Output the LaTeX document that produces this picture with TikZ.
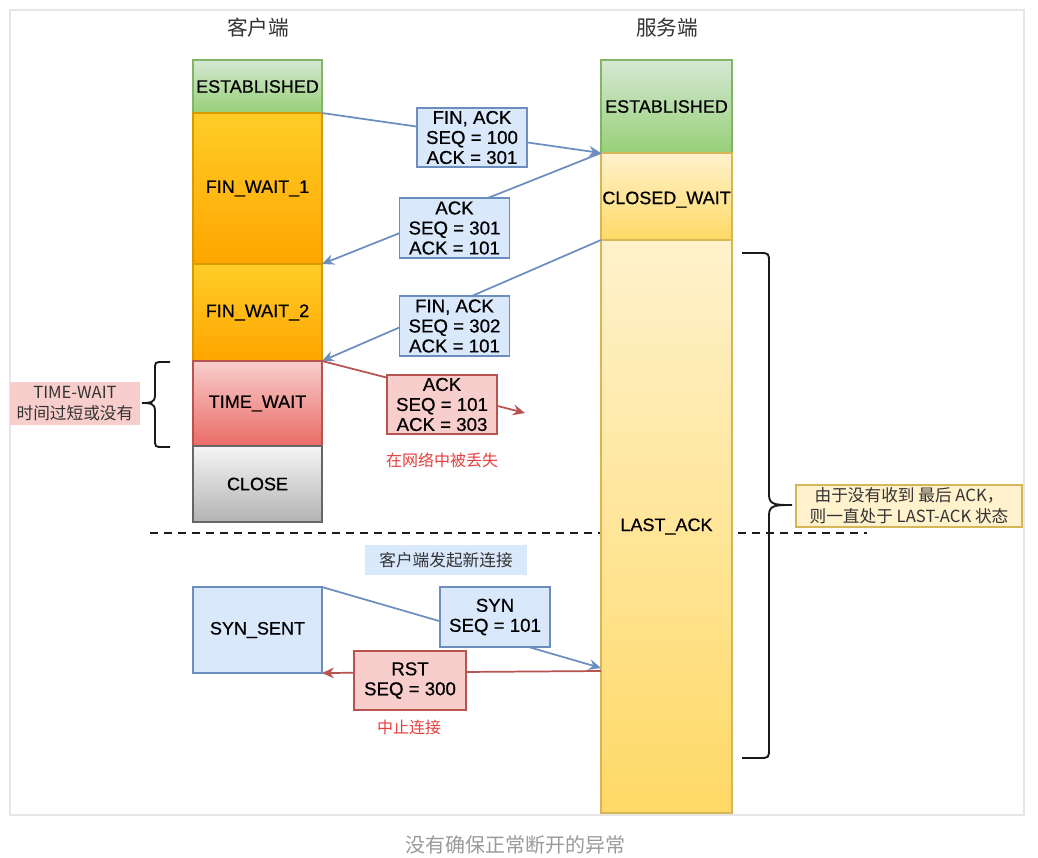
\documentclass[tikz,border=0pt]{standalone}
\usepackage{fontspec}
\setmainfont{Liberation Sans}
\newfontfamily\hand[FakeBold=0.6]{Liberation Sans}
\newfontfamily\cjk{Noto Sans CJK SC}
\usetikzlibrary{arrows.meta,calc}
\definecolor{gTop}{HTML}{D5E8D4}
\definecolor{gBot}{HTML}{97D077}
\definecolor{gLine}{HTML}{82B366}
\definecolor{oTop}{HTML}{FFCD28}
\definecolor{oBot}{HTML}{FFA500}
\definecolor{oLine}{HTML}{D79B00}
\definecolor{yTop}{HTML}{FFF2CC}
\definecolor{yBot}{HTML}{FFD966}
\definecolor{yLine}{HTML}{D6B656}
\definecolor{rTop}{HTML}{F8CECC}
\definecolor{rBot}{HTML}{EA6B66}
\definecolor{rLine}{HTML}{B85450}
\definecolor{kTop}{HTML}{F5F5F5}
\definecolor{kBot}{HTML}{B3B3B3}
\definecolor{kLine}{HTML}{666666}
\definecolor{bFill}{HTML}{DAE8FC}
\definecolor{bLine}{HTML}{6C8EBF}
\definecolor{pFill}{HTML}{F8CECC}
\definecolor{frameC}{HTML}{E6E6E6}
\definecolor{txtC}{HTML}{333333}
\definecolor{warnC}{HTML}{E8403F}
\definecolor{capC}{HTML}{9A9A9A}
\definecolor{braceC}{HTML}{1A1A1A}
\tikzset{
  state/.style={draw, line width=1.3pt, inner sep=0pt, outer sep=0pt, text=black,
    font=\hand\fontsize{13.5}{15}\selectfont},
  greenst/.style={top color=gTop, bottom color=gBot, draw=gLine},
  orangest/.style={top color=oTop, bottom color=oBot, draw=oLine},
  yellowst/.style={top color=yTop, bottom color=yBot, draw=yLine},
  redst/.style={top color=rTop, bottom color=rBot, draw=rLine},
  greyst/.style={top color=kTop, bottom color=kBot, draw=kLine},
  msg/.style={draw=bLine, fill=bFill, line width=1.3pt, inner sep=0pt,
    minimum width=82.5pt, minimum height=44.5pt, align=center,
    font=\hand\fontsize{14}{15}\selectfont},
  redmsg/.style={msg, draw=rLine, fill=pFill},
  blueline/.style={draw=bLine, line width=1.3pt},
  redline/.style={draw=rLine, line width=1.3pt},
  tip/.style={-{Stealth[length=9pt,width=8pt,inset=3pt]}},
  bracel/.style={draw=braceC, line width=1.4pt},
  cjklabel/.style={font=\cjk\fontsize{12.5}{15.75}\selectfont, text=txtC, align=center},
}
\begin{document}
\begin{tikzpicture}[x=0.75pt,y=-0.75pt]
\useasboundingbox (0,0) rectangle (1038,857);
\fill[white] (0,0) rectangle (1038,857);
\draw[frameC, line width=0.8pt] (10,10) rectangle (1024,815);

% dashed separator
\draw[braceC, line width=1.3pt, dash pattern=on 6pt off 4.5pt] (150,533) -- (867,533);

% titles
\node[font=\cjk\fontsize{15.5}{18}\selectfont, text=txtC] (tc) at (258,28) {客户端};
\node[font=\cjk\fontsize{15.5}{18}\selectfont, text=txtC] (ts) at (667,28) {服务端};

% client column
\node[state,greenst,minimum width=96.75pt,minimum height=39.75pt] (cE) at (257.5,86.5) {ESTABLISHED};
\node[state,orangest,minimum width=96.75pt,minimum height=113.25pt] (cW1) at (257.5,188.5) {FIN\_WAIT\_1};
\node[state,orangest,minimum width=96.75pt,minimum height=72.75pt] (cW2) at (257.5,312.5) {FIN\_WAIT\_2};
\node[state,redst,minimum width=96.75pt,minimum height=63.75pt] (cT) at (257.5,403.5) {TIME\_WAIT};
\node[state,greyst,minimum width=96.75pt,minimum height=57pt] (cC) at (257.5,484) {CLOSE};
\node[state,fill=bFill,draw=bLine,minimum width=96.75pt,minimum height=64.5pt] (ss) at (257.5,630) {SYN\_SENT};

% server column
\node[state,greenst,minimum width=98.25pt,minimum height=69.75pt] (sE) at (666.5,106.5) {ESTABLISHED};
\node[state,yellowst,minimum width=98.25pt,minimum height=65.25pt,text depth=0pt] (sC) at (666.5,196.5) {\raisebox{-2pt}{CLOSED\_WAIT}};
\node[state,yellowst,minimum width=98.25pt,minimum height=429.75pt] (sL) at (666.5,526.5) {\raisebox{-2pt}{LAST\_ACK}};

% connectors
\coordinate (lost) at (525,413);
\draw[blueline,tip] (cE.south east) -- (sE.south west);
\draw[blueline,tip] (sE.south west) -- (cW1.south east);
\draw[blueline,tip] (sC.south west) -- (cW2.south east);
\draw[redline,tip] (cT.north east) -- (lost);
\draw[blueline,tip] (ss.north east) -- ($(sL.north west)+(0,428)$);
\draw[redline,tip] ($(sL.north west)+(0,431)$) -- (ss.south east);

% messages
\node[msg] (m1) at (472,137.5) {FIN, ACK\\SEQ = 100\\ACK = 301};
\node[msg] (m2) at (454.5,228) {ACK\\SEQ = 301\\ACK = 101};
\node[msg] (m3) at (454.5,326) {FIN, ACK\\SEQ = 302\\ACK = 101};
\node[redmsg] (m4) at (442,404.5) {ACK\\SEQ = 101\\ACK = 303};
\node[msg] (m5) at (495,617) {SYN\\SEQ = 101};
\node[redmsg,minimum width=84pt] (m6) at (410,680.5) {RST\\SEQ = 300};

% red notes
\node[font=\cjk\fontsize{12}{15}\selectfont, text=warnC] (n1) at (442,460) {在网络中被丢失};
\node[font=\cjk\fontsize{12}{15}\selectfont, text=warnC] (n2) at (409,727) {中止连接};

% new connection label
\node[cjklabel, fill=bFill, minimum width=121.5pt, minimum height=22.5pt, inner sep=0pt] (nc) at (446,560) {客户端发起新连接};

% left brace
\draw[bracel] (170,362) -- (163,362) .. controls (155,362) .. (155,370) -- (155,395)
  .. controls (155,403) and (150,403) .. (142,403)
  .. controls (150,403) and (155,403) .. (155,411) -- (155,439)
  .. controls (155,447) .. (163,447) -- (170,447);
\node[cjklabel, fill=pFill, minimum width=97.5pt, minimum height=32pt, inner sep=0pt] (twl) at (75,403.5) {TIME-WAIT\\时间过短或没有};

% right brace
\draw[bracel] (742,253) -- (759,253) .. controls (769,253) .. (769,263) -- (769,495)
  .. controls (769,505) and (776,505) .. (792,505)
  .. controls (776,505) and (769,505) .. (769,515) -- (769,748)
  .. controls (769,758) .. (759,758) -- (742,758);
\node[cjklabel, fill=yTop, draw=yLine, line width=0.8pt, minimum width=169.5pt, minimum height=31.5pt, inner sep=0pt] (lal) at (909,506) {由于没有收到 最后 ACK，\\则一直处于 LAST-ACK 状态};

% caption
\node[font=\cjk\fontsize{15}{18}\selectfont, text=capC] (cap) at (515,845) {没有确保正常断开的异常};
\end{tikzpicture}
\end{document}
